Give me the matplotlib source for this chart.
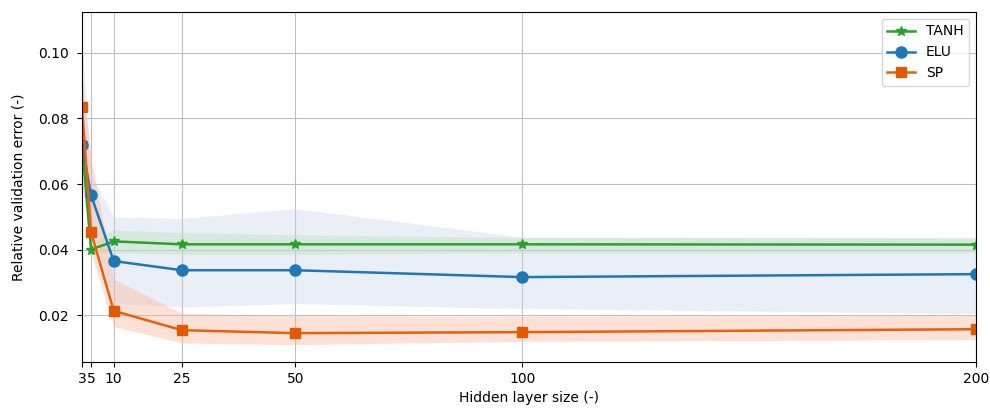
import matplotlib
matplotlib.use("Agg")
import matplotlib.pyplot as plt

sizes = [3, 5, 10, 25, 50, 100, 200]

tanh_mean = [0.0725, 0.0400, 0.0425, 0.0416, 0.0416, 0.0416, 0.0415]
tanh_lo = [0.060, 0.0385, 0.0390, 0.0385, 0.0385, 0.0390, 0.0390]
tanh_hi = [0.080, 0.0420, 0.0460, 0.0452, 0.0445, 0.0437, 0.0437]

elu_mean = [0.0720, 0.0566, 0.0365, 0.0337, 0.0337, 0.0316, 0.0325]
elu_lo = [0.060, 0.0480, 0.0235, 0.0225, 0.0235, 0.0220, 0.0205]
elu_hi = [0.104, 0.0630, 0.0500, 0.0495, 0.0525, 0.0438, 0.0435]

sp_mean = [0.0835, 0.0453, 0.0213, 0.0154, 0.0145, 0.0148, 0.0157]
sp_lo = [0.0700, 0.0390, 0.0165, 0.0115, 0.0110, 0.0120, 0.0125]
sp_hi = [0.0930, 0.0680, 0.0310, 0.0205, 0.0198, 0.0197, 0.0200]

fig = plt.figure(figsize=(9.9, 4.12), dpi=100)
ax = fig.add_axes([0.0828, 0.1214, 0.9032, 0.8496])

ax.fill_between(sizes, elu_lo, elu_hi, color="#c8d6ec", alpha=0.4, lw=0)
ax.fill_between(sizes, tanh_lo, tanh_hi, color="#b6e0b0", alpha=0.35, lw=0)
ax.fill_between(sizes, sp_lo, sp_hi, color="#fbb59a", alpha=0.4, lw=0)

ax.plot(sizes, tanh_mean, color="#2ca02c", marker="*", markersize=7, lw=1.8, label="TANH")
ax.plot(sizes, elu_mean, color="#1f77b4", marker="o", markersize=8, lw=1.8, label="ELU")
ax.plot(sizes, sp_mean, color="#e6600d", marker="s", markersize=7.5, lw=1.8,
        markerfacecolor="#e05a00", markeredgecolor="#e05a00", label="SP")

ax.set_xlim(3, 200)
ax.set_ylim(0.0057, 0.1125)
ax.set_xticks(sizes)
ax.set_xticklabels(["3", "5", "10", "25", "50", "100", "200"])
ax.set_yticks([0.02, 0.04, 0.06, 0.08, 0.10])
ax.tick_params(axis="y", pad=6)
ax.grid(True, color="#c0c0c0", lw=0.8)
ax.set_axisbelow(True)

ax.set_xlabel("Hidden layer size (-)")
ax.set_ylabel("Relative validation error (-)", labelpad=9)
ax.legend(loc="upper right")

fig.savefig("out.png", dpi=100)
